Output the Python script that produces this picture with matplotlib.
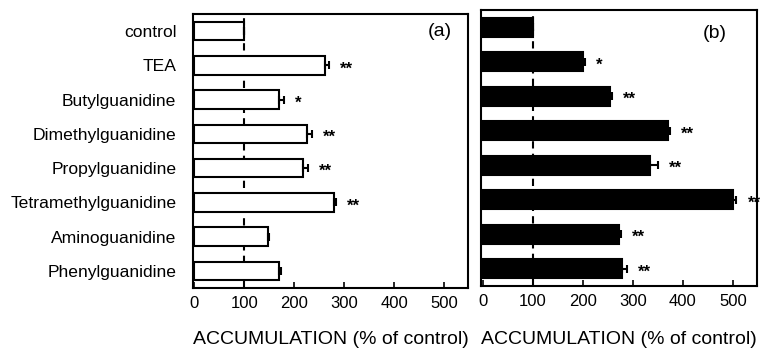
import matplotlib
matplotlib.use("Agg")
import matplotlib.pyplot as plt
import numpy as np

plt.rcParams['font.family'] = ['Liberation Sans', 'DejaVu Sans']

categories = ["control", "TEA", "Butylguanidine", "Dimethylguanidine",
              "Propylguanidine", "Tetramethylguanidine", "Aminoguanidine",
              "Phenylguanidine"]
vals_a = [100, 262, 170, 225, 218, 280, 147, 169]
err_a = [0, 8, 9, 11, 10, 3, 3, 4]
stars_a = ["", "**", "*", "**", "**", "**", "", ""]
vals_b = [100, 200, 255, 370, 335, 500, 272, 279]
err_b = [0, 4, 3, 4, 15, 7, 4, 10]
stars_b = ["", "*", "**", "**", "**", "**", "**", "**"]
xticks = [0, 100, 200, 300, 400, 500]

fig = plt.figure(figsize=(7.66, 3.5), dpi=100)
ax_a = fig.add_axes([193/766, 62/350, 275/766, 274/350])
ax_b = fig.add_axes([481/766, 64/350, 276/766, 276/350])

y = np.arange(len(categories))

def draw(ax, vals, errs, stars, face, label, lx, ly):
    ax.barh(y, vals, height=0.54, color=face, edgecolor='black', linewidth=1.5, zorder=2)
    ax.errorbar(vals, y, xerr=[np.zeros(len(errs)), errs], fmt='none', ecolor='black',
                elinewidth=1.5, capsize=3, capthick=1.5, zorder=3)
    for yi, v, e, s in zip(y, vals, errs, stars):
        if s:
            ax.text(v + e + 22, yi + 0.1, s, ha='left', va='center', fontsize=12,
                    fontweight='bold', zorder=4, clip_on=False)
    ax.axvline(100, color='black', linestyle=(0, (3.5, 2.5)), linewidth=1.5, zorder=1)
    ax.set_xlim(-3, 548)
    ax.set_ylim(len(categories) - 0.5, -0.5)
    ax.set_xticks(xticks)
    ax.tick_params(axis='x', direction='in', length=4, width=1.2, labelsize=12, pad=6)
    ax.tick_params(axis='y', length=0)
    for sp in ax.spines.values():
        sp.set_linewidth(1.5)
    ax.set_xlabel("ACCUMULATION (% of control)", fontsize=14)
    ax.xaxis.set_label_coords(0.5, 0, transform=ax.transAxes)
    ax.text(lx, ly, label, transform=ax.transAxes, ha='right', va='top', fontsize=14)

draw(ax_a, vals_a, err_a, stars_a, 'white', '(a)', 0.942, 0.967)
ax_a.set_yticks(y)
ax_a.set_yticklabels(categories, fontsize=12.6)
ax_a.tick_params(axis='y', pad=12)
draw(ax_b, vals_b, err_b, stars_b, 'black', '(b)', 0.891, 0.946)
ax_b.set_yticks([])

for ax in (ax_a, ax_b):
    lbl = ax.xaxis.label
    lbl.set_transform(fig.transFigure)
    bb = ax.get_position()
    lbl.set_position(((bb.x0 + bb.x1) / 2, 1 - 339/350))
    lbl.set_va('center')

fig.savefig("out.png", dpi=100)
